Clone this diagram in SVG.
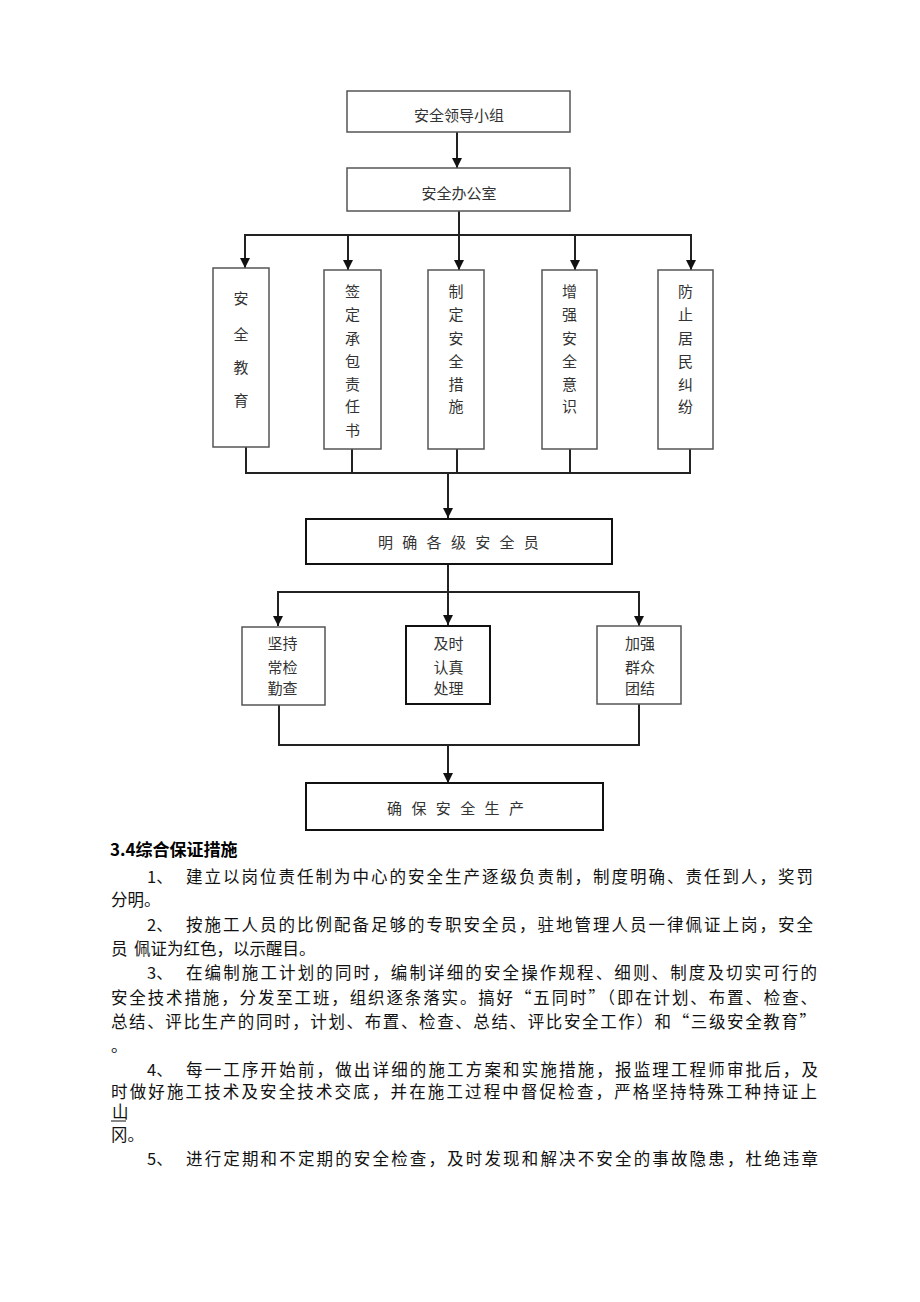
<svg xmlns="http://www.w3.org/2000/svg" width="920" height="1302" viewBox="0 0 920 1302">
<defs>
<marker id="arr" markerUnits="userSpaceOnUse" markerWidth="11" markerHeight="11" refX="10" refY="5" orient="auto">
<path d="M0,0 L10,5 L0,10 z" fill="#111"/>
</marker>
<style>
.box{fill:#fff;stroke:#555;stroke-width:1.5}
.bold{fill:#fff;stroke:#111;stroke-width:2}
.ln{fill:none;stroke:#222;stroke-width:2}
.ar{fill:none;stroke:#222;stroke-width:2;marker-end:url(#arr)}
.t{font-family:"Noto Sans CJK SC","Liberation Sans",sans-serif;font-size:15px;fill:#333}
.tc{font-family:"Noto Sans CJK SC","Liberation Sans",sans-serif;font-size:15px;fill:#333;text-anchor:middle}
.p{font-family:"Noto Sans CJK SC","Liberation Serif",serif;font-size:16.5px;fill:#111}
.h{font-family:"Noto Sans CJK SC","Liberation Sans",sans-serif;font-size:17px;font-weight:bold;fill:#000}
</style>
</defs>
<rect width="920" height="1302" fill="#fff"/>

<g id="connectors">
<line class="ar" x1="457" y1="132" x2="457" y2="168"/>
<line class="ln" x1="459" y1="211" x2="459" y2="235"/>
<line class="ln" x1="244" y1="235" x2="692" y2="235"/>
<line class="ar" x1="245" y1="235" x2="245" y2="268"/>
<line class="ar" x1="348" y1="235" x2="348" y2="270"/>
<line class="ar" x1="459" y1="235" x2="459" y2="270"/>
<line class="ar" x1="575" y1="235" x2="575" y2="270"/>
<line class="ar" x1="691" y1="235" x2="691" y2="270"/>
<line class="ln" x1="246" y1="447" x2="246" y2="474"/>
<line class="ln" x1="352" y1="449" x2="352" y2="473"/>
<line class="ln" x1="457" y1="449" x2="457" y2="473"/>
<line class="ln" x1="570" y1="449" x2="570" y2="473"/>
<line class="ln" x1="690" y1="449" x2="690" y2="474"/>
<line class="ln" x1="245" y1="473" x2="691" y2="473"/>
<line class="ar" x1="448" y1="473" x2="448" y2="518"/>
<line class="ln" x1="448" y1="564" x2="448" y2="592"/>
<line class="ln" x1="277" y1="592" x2="640" y2="592"/>
<line class="ar" x1="278" y1="592" x2="278" y2="626"/>
<line class="ar" x1="448" y1="592" x2="448" y2="625"/>
<line class="ar" x1="639" y1="592" x2="639" y2="626"/>
<line class="ln" x1="279" y1="705" x2="279" y2="746"/>
<line class="ln" x1="639" y1="704" x2="639" y2="746"/>
<line class="ln" x1="278" y1="745" x2="640" y2="745"/>
<line class="ar" x1="448" y1="745" x2="448" y2="783"/>
</g>

<g id="n1">
<rect class="box" x="347" y="91" width="223" height="41"/>
<text class="tc" x="459" y="121" font-size="16">安全领导小组</text>
</g>
<g id="n2">
<rect class="box" x="347" y="168" width="223" height="43"/>
<text class="tc" x="459" y="199" font-size="16">安全办公室</text>
</g>

<g id="b1">
<rect class="box" x="213" y="268" width="56" height="179"/>
<text class="tc" x="241" y="304">安</text>
<text class="tc" x="241" y="340">全</text>
<text class="tc" x="241" y="373">教</text>
<text class="tc" x="241" y="406">育</text>
</g>
<g id="b2">
<rect class="box" x="324" y="270" width="57" height="179"/>
<text class="tc" x="352.5" y="297">签</text>
<text class="tc" x="352.5" y="320">定</text>
<text class="tc" x="352.5" y="344">承</text>
<text class="tc" x="352.5" y="367">包</text>
<text class="tc" x="352.5" y="390">责</text>
<text class="tc" x="352.5" y="412">任</text>
<text class="tc" x="352.5" y="436">书</text>
</g>
<g id="b3">
<rect class="box" x="428" y="270" width="56" height="179"/>
<text class="tc" x="456" y="297">制</text>
<text class="tc" x="456" y="320">定</text>
<text class="tc" x="456" y="344">安</text>
<text class="tc" x="456" y="367">全</text>
<text class="tc" x="456" y="390">措</text>
<text class="tc" x="456" y="412">施</text>
</g>
<g id="b4">
<rect class="box" x="542" y="270" width="55" height="179"/>
<text class="tc" x="569.5" y="297">增</text>
<text class="tc" x="569.5" y="320">强</text>
<text class="tc" x="569.5" y="344">安</text>
<text class="tc" x="569.5" y="367">全</text>
<text class="tc" x="569.5" y="390">意</text>
<text class="tc" x="569.5" y="412">识</text>
</g>
<g id="b5">
<rect class="box" x="658" y="270" width="55" height="179"/>
<text class="tc" x="685.5" y="297">防</text>
<text class="tc" x="685.5" y="320">止</text>
<text class="tc" x="685.5" y="344">居</text>
<text class="tc" x="685.5" y="367">民</text>
<text class="tc" x="685.5" y="390">纠</text>
<text class="tc" x="685.5" y="412">纷</text>
</g>

<g id="n3">
<rect class="bold" x="306" y="519" width="306" height="45"/>
<text class="t" x="378" y="548" letter-spacing="9.3">明确各级安全员</text>
</g>

<g id="c1">
<rect class="box" x="242" y="627" width="83" height="78"/>
<text class="tc" x="282.5" y="649" font-size="16">坚持</text>
<text class="tc" x="282.5" y="673" font-size="16">常检</text>
<text class="tc" x="282.5" y="694" font-size="16">勤查</text>
</g>
<g id="c2">
<rect class="bold" x="406" y="626" width="84" height="78"/>
<text class="tc" x="448.5" y="649" font-size="16">及时</text>
<text class="tc" x="448.5" y="673" font-size="16">认真</text>
<text class="tc" x="448.5" y="694" font-size="16">处理</text>
</g>
<g id="c3">
<rect class="box" x="597" y="626" width="84" height="78"/>
<text class="tc" x="640" y="649" font-size="16">加强</text>
<text class="tc" x="640" y="673" font-size="16">群众</text>
<text class="tc" x="640" y="694" font-size="16">团结</text>
</g>

<g id="n4">
<rect class="bold" x="306" y="783" width="297" height="47"/>
<text class="t" x="387" y="814" letter-spacing="9.4">确保安全生产</text>
</g>

<g id="body">
<text class="h" x="110" y="856">3.4综合保证措施</text>
<text class="p" x="147" y="883">1、</text>
<text class="p" x="186" y="883" textLength="627" lengthAdjust="spacing">建立以岗位责任制为中心的安全生产逐级负责制，制度明确、责任到人，奖罚</text>
<text class="p" x="111" y="906">分明。</text>
<text class="p" x="147" y="931">2、</text>
<text class="p" x="186" y="931" textLength="627" lengthAdjust="spacing">按施工人员的比例配备足够的专职安全员，驻地管理人员一律佩证上岗，安全</text>
<text class="p" x="111" y="955">员<tspan x="134">佩证为红色，以示醒目。</tspan></text>
<text class="p" x="147" y="979">3、</text>
<text class="p" x="186" y="979" textLength="631" lengthAdjust="spacing">在编制施工计划的同时，编制详细的安全操作规程、细则、制度及切实可行的</text>
<text class="p" x="111" y="1004" textLength="706" lengthAdjust="spacing">安全技术措施，分发至工班，组织逐条落实。搞好“五同时”（即在计划、布置、检查、</text>
<text class="p" x="111" y="1028" textLength="705" lengthAdjust="spacing">总结、评比生产的同时，计划、布置、检查、总结、评比安全工作）和“三级安全教育”</text>
<text class="p" x="111" y="1052">。</text>
<text class="p" x="147" y="1076" font-size="15.5">4、</text>
<text class="p" x="186" y="1076" font-size="15.5" textLength="632" lengthAdjust="spacing">每一工序开始前，做出详细的施工方案和实施措施，报监理工程师审批后，及</text>
<text class="p" x="111" y="1098" font-size="15.5" textLength="706" lengthAdjust="spacing">时做好施工技术及安全技术交底，并在施工过程中督促检查，严格坚持特殊工种持证上</text>
<text class="p" x="112" y="1118" font-size="12.5">山</text>
<line x1="111" y1="1121" x2="126" y2="1121" stroke="#111" stroke-width="1"/>
<text class="p" x="111" y="1141">冈。</text>
<text class="p" x="147" y="1165">5、</text>
<text class="p" x="186" y="1165" textLength="632" lengthAdjust="spacing">进行定期和不定期的安全检查，及时发现和解决不安全的事故隐患，杜绝违章</text>
</g>
</svg>
